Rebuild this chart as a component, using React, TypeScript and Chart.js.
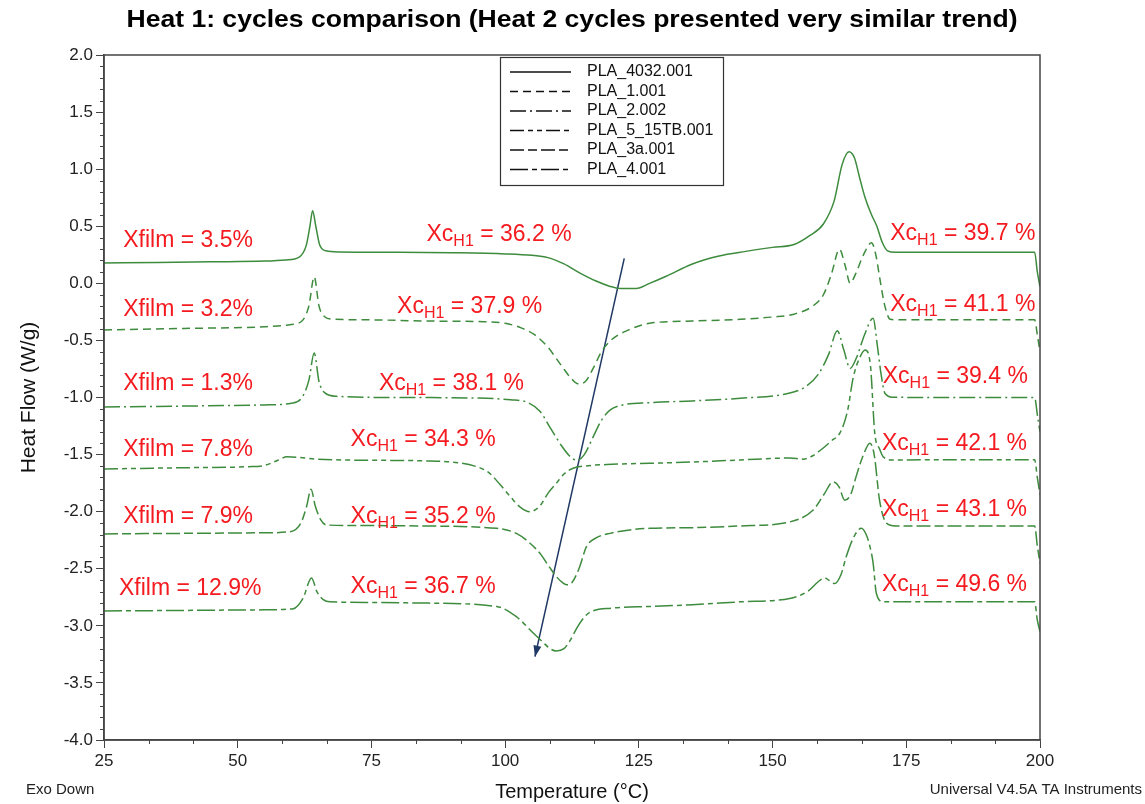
import React, { useEffect, useRef } from 'react';
import { Chart, registerables } from 'chart.js';
Chart.register(...registerables);

const FONT = '"Liberation Sans", Arial, sans-serif';
const GREEN = '#3d8b3d';
const RED = '#f41a1f';

const seriesNames = ['PLA_4032.001', 'PLA_1.001', 'PLA_2.002', 'PLA_5_15TB.001', 'PLA_3a.001', 'PLA_4.001'];

const t1 = [25, 35, 45, 55, 59, 61.5, 62.8, 63.5, 64.0, 64.6, 65.3, 66.5, 69, 80, 90, 100, 105, 108, 111, 114, 117, 119.5, 121.5, 124.5, 127, 130, 135, 140, 145, 150, 154, 157, 159.5, 161.5, 163, 164.3, 165.3, 166.3, 167.3, 168.5, 169.5, 170.5, 171.5, 173, 185, 199, 199.5, 200];
const h1 = [0.178, 0.182, 0.188, 0.195, 0.205, 0.23, 0.33, 0.5, 0.636, 0.5, 0.34, 0.285, 0.275, 0.272, 0.268, 0.258, 0.245, 0.225, 0.17, 0.09, 0.02, -0.025, -0.045, -0.045, 0.0, 0.06, 0.17, 0.24, 0.28, 0.315, 0.34, 0.42, 0.52, 0.72, 1.04, 1.153, 1.1, 0.92, 0.75, 0.6, 0.5, 0.36, 0.285, 0.272, 0.272, 0.272, 0.1, -0.03];

const t2 = [25, 40, 55, 60, 62, 63.3, 64.3, 65.2, 66.2, 68, 75, 85, 96, 100, 103, 105.5, 108, 110.5, 112.3, 113.6, 115, 116.5, 118, 120, 123, 127, 135, 144, 150, 154, 157.5, 159.5, 161, 162.5, 163.6, 164.5, 165.5, 167, 168.5, 169.3, 170.2, 171, 172, 174, 185, 199, 199.5, 200];
const h2 = [-0.409, -0.395, -0.38, -0.36, -0.33, -0.2, 0.058, -0.2, -0.29, -0.315, -0.32, -0.33, -0.336, -0.35, -0.39, -0.45, -0.56, -0.72, -0.83, -0.88, -0.86, -0.74, -0.6, -0.49, -0.41, -0.35, -0.33, -0.315, -0.295, -0.27, -0.2, -0.1, 0.08, 0.298, 0.15, 0.0, 0.08, 0.25, 0.356, 0.25, 0.0, -0.2, -0.315, -0.32, -0.32, -0.32, -0.45, -0.6];

const t3 = [25, 40, 55, 60, 62, 63.3, 64.3, 65.2, 66.3, 68.5, 80, 95, 101, 104, 106.5, 108.5, 110.5, 112, 113.4, 114.8, 116.5, 118, 119.6, 122, 127, 135, 144, 153, 156, 158.5, 160.5, 162.1, 163.3, 164.5, 165.7, 167.2, 168.8, 169.6, 170.3, 171, 172.5, 185, 199, 199.5, 200];
const h3 = [-1.083, -1.075, -1.065, -1.05, -1.0, -0.85, -0.61, -0.86, -0.96, -0.99, -1.0, -1.005, -1.02, -1.04, -1.12, -1.27, -1.42, -1.51, -1.55, -1.5, -1.34, -1.2, -1.11, -1.065, -1.045, -1.03, -1.007, -0.963, -0.91, -0.8, -0.62, -0.415, -0.58, -0.745, -0.65, -0.45, -0.306, -0.55, -0.8, -0.963, -0.998, -1.0, -1.0, -1.15, -1.3];

const t4 = [25, 40, 52, 55, 57.5, 59.2, 61.5, 65, 75, 85, 94.7, 97, 99, 101, 102.8, 104.6, 106.5, 108, 109.6, 111, 112.7, 115, 120, 127, 135, 144, 153.2, 155.7, 157.5, 159, 161, 162.6, 164, 165.1, 166.3, 167.3, 168.3, 169.1, 170, 170.7, 172.6, 185, 199, 199.5, 200];
const h4 = [-1.626, -1.615, -1.606, -1.595, -1.55, -1.52, -1.525, -1.54, -1.55, -1.555, -1.606, -1.66, -1.76, -1.87, -1.96, -2.0, -1.95, -1.84, -1.75, -1.67, -1.62, -1.6, -1.585, -1.576, -1.565, -1.547, -1.53, -1.54, -1.51, -1.46, -1.38, -1.31, -1.12, -0.82, -0.65, -0.584, -0.72, -1.31, -1.45, -1.52, -1.547, -1.545, -1.545, -1.7, -1.85];

const t5 = [25, 40, 55, 59.8, 61.8, 62.9, 63.7, 64.5, 65.5, 66.6, 75, 83.4, 98.4, 102.1, 104.5, 106.5, 108.2, 109.6, 110.7, 111.5, 112.5, 113.8, 115.2, 117, 119.6, 127, 135, 143.9, 153.2, 157.6, 159.6, 161.3, 162.4, 163.5, 164.6, 165.7, 167, 168.2, 169, 170, 171.3, 173, 185, 199, 199.5, 200];
const h5 = [-2.195, -2.19, -2.185, -2.175, -2.1, -1.95, -1.804, -1.95, -2.07, -2.117, -2.122, -2.125, -2.146, -2.19, -2.27, -2.365, -2.48, -2.57, -2.62, -2.64, -2.62, -2.5, -2.307, -2.23, -2.19, -2.146, -2.14, -2.125, -2.09, -1.985, -1.85, -1.74, -1.78, -1.9, -1.85, -1.68, -1.5, -1.4, -1.5, -1.9, -2.1, -2.125, -2.125, -2.125, -2.3, -2.45];

const t6 = [25, 40, 55, 60.4, 62.2, 63.8, 64.8, 66, 67.2, 75, 83.4, 98.4, 102.1, 105.3, 107, 108.4, 109.6, 111, 112, 113.4, 114.7, 115.9, 120, 127.1, 135, 143.9, 153.2, 156.5, 158.9, 159.8, 160.5, 161.6, 162.8, 163.8, 165.2, 166.6, 167.5, 168.2, 168.8, 169.4, 170.7, 173, 185, 199, 199.5, 200];
const h6 = [-2.87, -2.865, -2.86, -2.85, -2.76, -2.58, -2.7, -2.77, -2.79, -2.795, -2.8, -2.83, -2.92, -3.065, -3.14, -3.2, -3.22, -3.2, -3.14, -3.02, -2.93, -2.88, -2.845, -2.83, -2.815, -2.79, -2.76, -2.7, -2.6, -2.58, -2.6, -2.63, -2.55, -2.39, -2.22, -2.145, -2.2, -2.305, -2.45, -2.715, -2.79, -2.79, -2.79, -2.79, -2.95, -3.05];

const seriesT = [t1, t2, t3, t4, t5, t6];
const seriesH = [h1, h2, h3, h4, h5, h6];
const seriesDash = [[], [8, 5], [16, 4, 2, 4], [14, 4, 5, 4, 5, 4], [14, 4, 9, 4], [18, 4, 5, 4]];

// trend arrow (start -> end), in data units
const arrowT = [122.27, 105.58];
const arrowH = [0.219, -3.27];

// annotation texts and their anchor (data units)
const xfilmText = ['Xfilm = 3.5%', 'Xfilm = 3.2%', 'Xfilm = 1.3%', 'Xfilm = 7.8%', 'Xfilm = 7.9%', 'Xfilm = 12.9%'];
const xfilmT = [28.6, 28.6, 28.6, 28.6, 28.6, 27.8];
const xfilmH = [0.371, -0.234, -0.882, -1.46, -2.047, -2.677];

const xcMidText = ['36.2', '37.9', '38.1', '34.3', '35.2', '36.7'];
const xcMidT = [85.3, 79.8, 76.4, 71.1, 71.1, 71.1];
const xcMidH = [0.423, -0.205, -0.882, -1.372, -2.044, -2.657];

const xcRightText = ['39.7', '41.1', '39.4', '42.1', '43.1', '49.6'];
const xcRightT = [172.0, 172.0, 170.6, 170.45, 170.45, 170.45];
const xcRightH = [0.438, -0.19, -0.818, -1.4, -1.985, -2.642];

const xTicks = { min: 25, max: 200, step: 25 };
const yTicks = { min: -4, max: 2, step: 0.5 };

function drawXc(ctx: CanvasRenderingContext2D, x: number, y: number, val: string) {
  ctx.textAlign = 'left';
  ctx.textBaseline = 'middle';
  ctx.fillStyle = RED;
  ctx.font = `23px ${FONT}`;
  ctx.fillText('Xc', x, y);
  let w = ctx.measureText('Xc').width;
  ctx.font = `16px ${FONT}`;
  ctx.fillText('H1', x + w, y + 7);
  w += ctx.measureText('H1').width;
  ctx.font = `23px ${FONT}`;
  ctx.fillText(' = ' + val + ' %', x + w, y);
}

const decorPlugin = {
  id: 'decor',
  afterDatasetsDraw(chart: any) {
    const ctx: CanvasRenderingContext2D = chart.ctx;
    const xs = chart.scales.x;
    const ys = chart.scales.y;
    // arrowhead
    const meta = chart.getDatasetMeta(6);
    const p0 = meta.data[0];
    const p1 = meta.data[1];
    const ang = Math.atan2(p1.y - p0.y, p1.x - p0.x);
    ctx.save();
    ctx.fillStyle = '#1f3864';
    ctx.beginPath();
    ctx.moveTo(p1.x, p1.y);
    ctx.lineTo(p1.x - 11 * Math.cos(ang) + 4 * Math.sin(ang), p1.y - 11 * Math.sin(ang) - 4 * Math.cos(ang));
    ctx.lineTo(p1.x - 11 * Math.cos(ang) - 4 * Math.sin(ang), p1.y - 11 * Math.sin(ang) + 4 * Math.cos(ang));
    ctx.closePath();
    ctx.fill();
    // labels
    ctx.fillStyle = RED;
    ctx.font = `23px ${FONT}`;
    ctx.textAlign = 'left';
    ctx.textBaseline = 'middle';
    for (let i = 0; i < xfilmText.length; i++) {
      ctx.fillText(xfilmText[i], xs.getPixelForValue(xfilmT[i]), ys.getPixelForValue(xfilmH[i]));
    }
    for (let i = 0; i < xcMidText.length; i++) {
      drawXc(ctx, xs.getPixelForValue(xcMidT[i]), ys.getPixelForValue(xcMidH[i]), xcMidText[i]);
    }
    for (let i = 0; i < xcRightText.length; i++) {
      drawXc(ctx, xs.getPixelForValue(xcRightT[i]), ys.getPixelForValue(xcRightH[i]), xcRightText[i]);
    }
    ctx.restore();
  },
  afterDraw(chart: any) {
    const ctx: CanvasRenderingContext2D = chart.ctx;
    const a = chart.chartArea;
    const xs = chart.scales.x;
    const ys = chart.scales.y;
    ctx.save();
    // frame
    ctx.strokeStyle = '#444';
    ctx.lineWidth = 1.5;
    ctx.strokeRect(a.left, a.top, a.right - a.left, a.bottom - a.top);
    // minor ticks
    ctx.lineWidth = 1;
    ctx.beginPath();
    for (let k = 0; k <= 60; k++) {
      if (k % 5 === 0) continue;
      const py = Math.round(ys.getPixelForValue(yTicks.min + k * 0.1)) + 0.5;
      ctx.moveTo(a.left - 4, py);
      ctx.lineTo(a.left, py);
    }
    for (let k = 0; k <= 21; k++) {
      if (k % 3 === 0) continue;
      const px = Math.round(xs.getPixelForValue(xTicks.min + (k * 25) / 3)) + 0.5;
      ctx.moveTo(px, a.bottom);
      ctx.lineTo(px, a.bottom + 4);
    }
    ctx.stroke();
    // legend
    const lx = a.left + 396;
    const ly = a.top + 2;
    ctx.fillStyle = '#fff';
    ctx.fillRect(lx, ly, 223, 128);
    ctx.strokeStyle = '#333';
    ctx.lineWidth = 1.2;
    ctx.strokeRect(lx + 0.5, ly + 0.5, 223, 128);
    ctx.font = `16px ${FONT}`;
    ctx.textAlign = 'left';
    ctx.textBaseline = 'middle';
    for (let i = 0; i < seriesNames.length; i++) {
      const yy = ly + 15 + i * 19.5;
      ctx.strokeStyle = '#111';
      ctx.lineWidth = 1.3;
      ctx.setLineDash(seriesDash[i]);
      ctx.beginPath();
      ctx.moveTo(lx + 10, yy);
      ctx.lineTo(lx + 71, yy);
      ctx.stroke();
      ctx.setLineDash([]);
      ctx.fillStyle = '#111';
      ctx.fillText(seriesNames[i], lx + 87, yy);
    }
    // title (stretched to the reference width)
    const title = 'Heat 1: cycles comparison (Heat 2 cycles presented very similar trend)';
    ctx.fillStyle = '#000';
    ctx.font = `bold 23px ${FONT}`;
    ctx.textAlign = 'center';
    const tw = ctx.measureText(title).width;
    const sx = 891 / tw;
    ctx.save();
    ctx.translate(572, 21);
    ctx.scale(sx, 1);
    ctx.fillText(title, 0, 0);
    ctx.restore();
    // footers
    ctx.font = `15px ${FONT}`;
    ctx.fillStyle = '#222';
    ctx.textAlign = 'left';
    ctx.fillText('Exo Down', 26, 790);
    ctx.textAlign = 'right';
    ctx.fillText('Universal V4.5A TA Instruments', 1142, 790);
    ctx.restore();
  },
};

export default function App() {
  const ref = useRef<HTMLCanvasElement | null>(null);
  useEffect(() => {
    if (!ref.current) return;
    const datasets: any[] = seriesNames.map((name, i) => ({
      label: name,
      data: seriesT[i].map((t, j) => ({ x: t, y: seriesH[i][j] })),
      borderColor: GREEN,
      borderWidth: 1.5,
      borderDash: seriesDash[i],
      pointRadius: 0,
      cubicInterpolationMode: 'monotone',
      fill: false,
    }));
    datasets.push({
      label: 'trend',
      data: arrowT.map((t, j) => ({ x: t, y: arrowH[j] })),
      borderColor: '#1f3864',
      borderWidth: 1.5,
      pointRadius: 0,
      fill: false,
    });
    const chart = new Chart(ref.current, {
      type: 'line',
      data: { datasets },
      options: {
        animation: false,
        responsive: false,
        maintainAspectRatio: false,
        layout: { padding: { top: 55, right: 105, left: 0, bottom: 0 } },
        plugins: { legend: { display: false }, tooltip: { enabled: false }, title: { display: false } },
        scales: {
          x: {
            type: 'linear',
            min: xTicks.min,
            max: xTicks.max,
            ticks: {
              stepSize: xTicks.step,
              font: { family: FONT, size: 17 },
              color: '#222',
              padding: 3,
              maxRotation: 0,
              callback: (v: any) => String(v),
            },
            grid: { drawOnChartArea: false, drawTicks: true, tickLength: 8, color: '#444', tickColor: '#444' },
            border: { display: true, color: '#444', width: 1.5 },
            title: { display: true, text: 'Temperature (°C)', font: { family: FONT, size: 20 }, color: '#111', padding: { top: 0, bottom: 0 } },
            afterFit: (s: any) => { s.height = 64; },
          },
          y: {
            type: 'linear',
            min: yTicks.min,
            max: yTicks.max,
            ticks: {
              stepSize: yTicks.step,
              font: { family: FONT, size: 17 },
              color: '#222',
              padding: 3,
              callback: (v: any) => Number(v).toFixed(1),
            },
            grid: { drawOnChartArea: false, drawTicks: true, tickLength: 8, color: '#444', tickColor: '#444' },
            border: { display: true, color: '#444', width: 1.5 },
            title: { display: true, text: 'Heat Flow (W/g)', font: { family: FONT, size: 21 }, color: '#111', padding: { top: 17, bottom: 0 } },
            afterFit: (s: any) => { s.width = 104; },
          },
        },
      },
      plugins: [decorPlugin],
    });
    return () => chart.destroy();
  }, []);
  return (
    <div style={{ position: 'fixed', left: 0, top: 0, width: 1145, height: 804, background: '#fff' }}>
      <canvas ref={ref} width={1145} height={804} style={{ width: 1145, height: 804, display: 'block' }} />
    </div>
  );
}
